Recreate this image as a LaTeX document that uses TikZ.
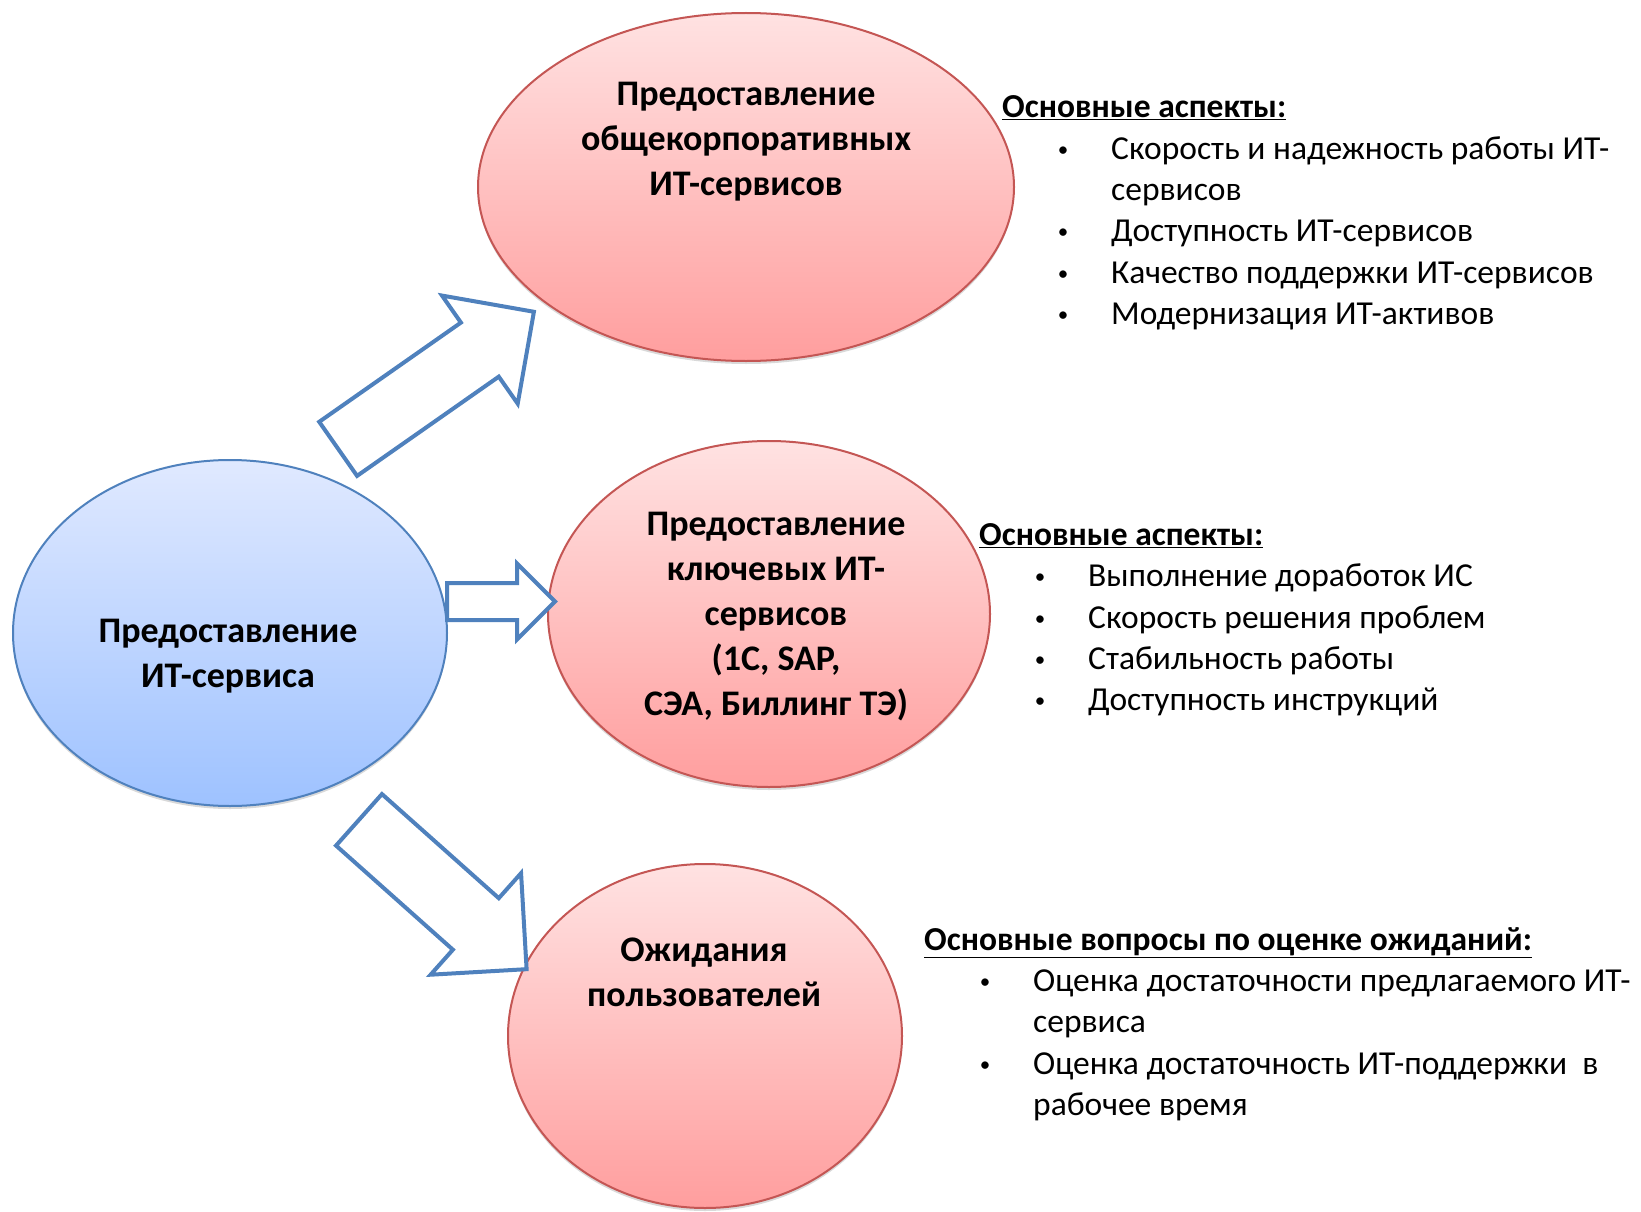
\documentclass[tikz,border=0pt]{standalone}
\usepackage{fontspec}
\setmainfont{Carlito}
\usepackage{tikz}
\usepackage{xcolor}
\usetikzlibrary{shapes.geometric,shapes.arrows,shadows}

\definecolor{arrowblue}{RGB}{79,129,189}
\definecolor{pinkedge}{RGB}{196,86,84}
\definecolor{pinktop}{RGB}{255,226,226}
\definecolor{pinkbot}{RGB}{255,158,158}
\definecolor{bluetop}{RGB}{224,233,255}
\definecolor{bluebot}{RGB}{158,194,255}

\newcommand{\itm}[1]{\hspace*{61pt}\makebox[0pt]{\raisebox{3pt}{\fontsize{21}{21}\selectfont•}}\hspace{48pt}#1}
\newcommand{\itmcont}[1]{\hspace*{109pt}#1}

\begin{document}
\begin{tikzpicture}[x=1pt,y=-1pt,
    bubble/.style={ellipse, inner sep=0pt, line width=2pt, draw=pinkedge,
        top color=pinktop, bottom color=pinkbot,
        drop shadow={shadow xshift=0pt, shadow yshift=-3pt, opacity=0.3}},
    mainbubble/.style={bubble, draw=arrowblue, top color=bluetop, bottom color=bluebot},
    btext/.style={inner sep=0pt, align=center, font=\fontsize{36}{45}\selectfont\bfseries},
    aspects/.style={inner sep=0pt, align=left, anchor=west, font=\fontsize{33.5}{41.3}\selectfont},
    blockarrow/.style={single arrow, draw=arrowblue, fill=white, line width=4pt,
        inner xsep=0pt, single arrow tip angle=90, anchor=tail}]
    \useasboundingbox (0,0) rectangle (1641,1212);

    \node[mainbubble, minimum width=434pt, minimum height=346pt] (svc) at (230,633) {};
    \node[bubble, minimum width=536pt, minimum height=348pt] (corp) at (746,187) {};
    \node[bubble, minimum width=442pt, minimum height=346pt] (key) at (769,614) {};
    \node[bubble, minimum width=394pt, minimum height=344pt] (users) at (705,1036) {};

    \node[btext] (svctext) at (228,656) {Предоставление\\ИТ-сервиса};
    \node[btext] (corptext) at (746,142) {Предоставление\\общекорпоративных\\ИТ-сервисов};
    \node[btext] (keytext) at (776,616.5) {Предоставление\\ключевых ИТ-\\сервисов\\(1С, SAP,\\СЭА, Биллинг ТЭ)};
    \node[btext] (userstext) at (704,972) {Ожидания\\пользователей};

    \node[blockarrow, rotate=35, minimum height=239pt, inner ysep=31pt,
        single arrow head extend=33pt] (a1) at (336.5,450) {};
    \node[blockarrow, minimum height=108pt, inner ysep=16.5pt,
        single arrow head extend=19.5pt] (a2) at (445,601.5) {};
    \node[blockarrow, rotate=-41.7, minimum height=224.5pt, inner ysep=32.5pt,
        single arrow head extend=33.5pt] (a3) at (357.5,818.5) {};

    \node[aspects] (corplist) at (1002,213) {\textbf{\underline{Основные аспекты:}}\\
        \itm{Скорость и надежность работы ИТ-}\\
        \itmcont{сервисов}\\
        \itm{Доступность ИТ-сервисов}\\
        \itm{Качество поддержки ИТ-сервисов}\\
        \itm{Модернизация ИТ-активов}};
    \node[aspects] (keylist) at (979,620) {\textbf{\underline{Основные аспекты:}}\\
        \itm{Выполнение доработок ИС}\\
        \itm{Скорость решения проблем}\\
        \itm{Стабильность работы}\\
        \itm{Доступность инструкций}};
    \node[aspects] (userslist) at (924,1024) {\textbf{\underline{Основные вопросы по оценке ожиданий:}}\\
        \itm{Оценка достаточности предлагаемого ИТ-}\\
        \itmcont{сервиса}\\
        \itm{Оценка достаточность ИТ-поддержки\ \ в}\\
        \itmcont{рабочее время}};
\end{tikzpicture}
\end{document}
